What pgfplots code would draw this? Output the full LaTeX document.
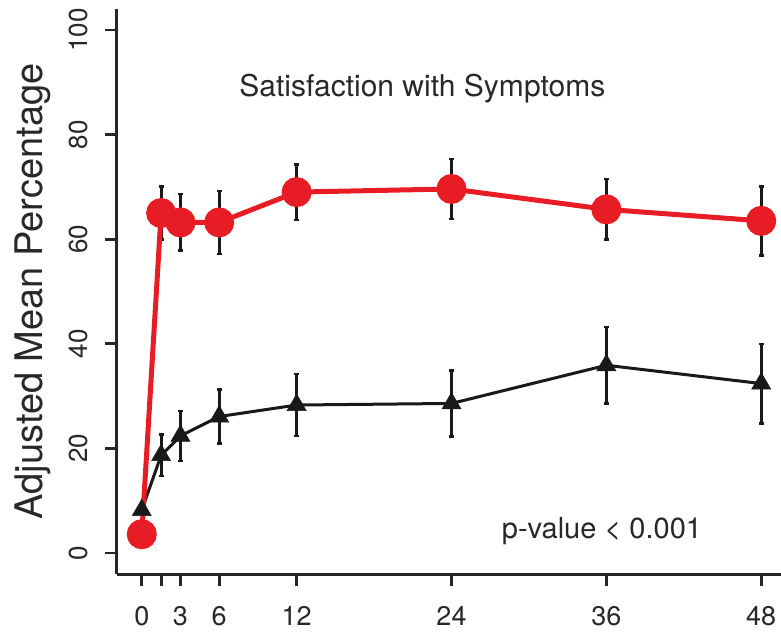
\documentclass[border=0pt]{standalone}
\usepackage{pgfplots}
\pgfplotsset{compat=1.18}
\usepackage{fontspec}
\setmainfont{TeX Gyre Heros}
\definecolor{myred}{RGB}{232,28,36}
\definecolor{txt}{RGB}{40,40,40}
\begin{document}
\begin{tikzpicture}
\begin{axis}[
  at={(0,0)}, anchor=south west,
  scale only axis,
  width=669pt, height=565pt,
  xmin=-1.92, xmax=49.92, ymin=-4, ymax=104,
  axis lines*=left,
  axis line style={line width=3pt, black!85},
  every tick/.style={line width=2.8pt, black!85},
  tick align=outside,
  major tick length=12pt,
  xtick={0,1.5,3,6,12,24,36,48},
  xticklabels={0,,3,6,12,24,36,48},
  ytick={0,20,40,60,80,100},
  yticklabel=\empty,
  /pgf/number format/assume math mode=true,
  xticklabel style={font=\fontsize{27}{30}\selectfont, text=txt, anchor=north, inner sep=0pt, yshift=-20pt},
  clip=false,
]
% black series with error bars
\addplot[black!90, line width=3pt, mark=triangle*, mark size=11pt,
  mark options={solid, line width=0.5pt},
  error bars/.cd, y dir=both, y explicit,
  error bar style={line width=3pt, black!90},
  error mark options={rotate=90, mark size=2.5pt, line width=2.5pt, black!90}]
coordinates {
(0,8.2) +- (0,0)
(1.5,18.7) +- (0,4.0)
(3,22.4) +- (0,4.8)
(6,26.1) +- (0,5.2)
(12,28.3) +- (0,5.9)
(24,28.6) +- (0,6.3)
(36,35.9) +- (0,7.3)
(48,32.4) +- (0,7.6)
};
% red series error bars (black)
\addplot[draw=none, mark=none,
  error bars/.cd, y dir=both, y explicit,
  error bar style={line width=3pt, black!90},
  error mark options={rotate=90, mark size=2.5pt, line width=2.5pt, black!90}]
coordinates {
(1.5,65.0) +- (0,5.1)
(3,63.2) +- (0,5.4)
(6,63.2) +- (0,6.0)
(12,69.0) +- (0,5.3)
(24,69.6) +- (0,5.7)
(36,65.7) +- (0,5.8)
(48,63.5) +- (0,6.6)
};
% red series
\addplot[myred, line width=5pt, mark=*, mark size=12.5pt, mark options={solid, fill=myred, draw=none}]
coordinates {
(0,3.6) (1.5,65.0) (3,63.2) (6,63.2) (12,69.0) (24,69.6) (36,65.7) (48,63.5)
};
% y tick labels (rotated, R style)
\node[rotate=90, anchor=base, text=txt, font=\fontsize{26}{30}\selectfont, inner sep=0pt] at (axis cs:-4.17,0) {0};
\node[rotate=90, anchor=base, text=txt, font=\fontsize{26}{30}\selectfont, inner sep=0pt] at (axis cs:-4.17,20) {20};
\node[rotate=90, anchor=base, text=txt, font=\fontsize{26}{30}\selectfont, inner sep=0pt] at (axis cs:-4.17,40) {40};
\node[rotate=90, anchor=base, text=txt, font=\fontsize{26}{30}\selectfont, inner sep=0pt] at (axis cs:-4.17,60) {60};
\node[rotate=90, anchor=base, text=txt, font=\fontsize{26}{30}\selectfont, inner sep=0pt] at (axis cs:-4.17,80) {80};
\node[rotate=90, anchor=base, text=txt, font=\fontsize{26}{30}\selectfont, inner sep=0pt] at (axis cs:-4.17,100) {100};
\node[anchor=base, text=txt, font=\fontsize{30}{36}\selectfont, inner sep=0pt] at (axis cs:21.74,87.2) {Satisfaction with Symptoms};
\node[anchor=base, text=txt, font=\fontsize{29}{34}\selectfont, inner sep=0pt] at (axis cs:35.66,2.8) {p-value < 0.001};
\end{axis}
\node[rotate=90, anchor=base, text=txt, font=\fontsize{38}{44}\selectfont, inner sep=0pt] at (-74pt,282.5pt) {Adjusted Mean Percentage};
\pgfresetboundingbox
\path[use as bounding box] (-117pt,-60pt) rectangle (664pt,574pt);
\end{tikzpicture}
\end{document}
